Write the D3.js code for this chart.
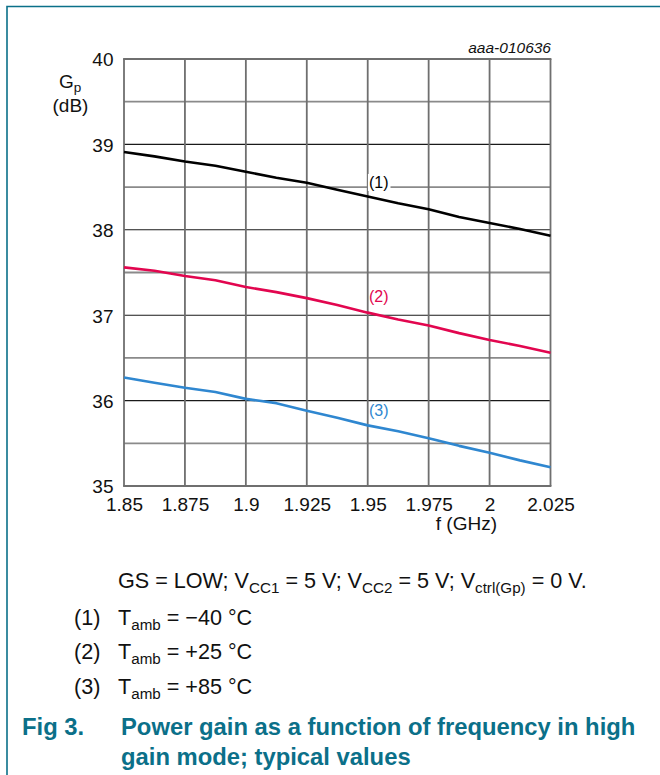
<!DOCTYPE html>
<html><head><meta charset="utf-8">
<script src="https://cdn.jsdelivr.net/npm/d3@7"></script>
<style>
html,body{margin:0;padding:0;background:#fff;}
svg text{font-family:"Liberation Sans",Arial,Helvetica,sans-serif;}
</style></head>
<body><svg id="c" width="660" height="775"></svg>
<script>
const freq = [1.85,1.8625,1.875,1.8875,1.9,1.9125,1.925,1.9375,1.95,1.9625,1.975,1.9875,2.0,2.0125,2.025];
const gainM40 = [38.91,38.86,38.80,38.75,38.68,38.61,38.55,38.47,38.39,38.31,38.24,38.15,38.08,38.01,37.93];
const gainP25 = [37.56,37.52,37.46,37.41,37.33,37.27,37.20,37.12,37.03,36.95,36.88,36.79,36.71,36.64,36.56];
const gainP85 = [36.27,36.21,36.15,36.10,36.02,35.97,35.88,35.80,35.71,35.64,35.56,35.47,35.39,35.30,35.22];
const xTicks = [1.85,1.875,1.9,1.925,1.95,1.975,2.0,2.025];
const xTickLabels = ["1.85","1.875","1.9","1.925","1.95","1.975","2","2.025"];
const yTicks = [35,36,37,38,39,40];
const yMinor = [35.5,36.5,37.5,38.5,39.5];
const seriesNames = ["(1)","(2)","(3)"];
const seriesColors = ["#000000","#e2064f","#2f87d0"];
const labelFreq = [1.9505,1.9505,1.9505];
const labelGain = [38.49,37.15,35.825];

const svg = d3.select("#c");
const teal = "#0b7089";
const x = d3.scaleLinear().domain([1.85,2.025]).range([124,550.5]);
const y = d3.scaleLinear().domain([35,40]).range([486,59]);
const axFs = 19;

svg.append("path").attr("d","M7,775 L7,6.5 L660,6.5").attr("fill","none").attr("stroke",teal).attr("stroke-width",1.6);

const g = svg.append("g");
g.selectAll(".hm").data(yMinor).join("line")
  .attr("x1",x(1.85)).attr("x2",x(2.025)).attr("y1",d=>y(d)).attr("y2",d=>y(d))
  .attr("stroke","#8a8a8a").attr("stroke-width",1.8);
g.selectAll(".hM").data(yTicks.filter(d=>d>35&&d<40)).join("line")
  .attr("x1",x(1.85)).attr("x2",x(2.025)).attr("y1",d=>y(d)).attr("y2",d=>y(d))
  .attr("stroke","#1a1a1a").attr("stroke-width",1.1);
g.selectAll(".v").data(xTicks).join("line")
  .attr("x1",d=>x(d)).attr("x2",d=>x(d)).attr("y1",y(35)).attr("y2",y(40))
  .attr("stroke","#6f6f6f").attr("stroke-width",1.8);
g.selectAll(".tb").data([35,40]).join("line")
  .attr("x1",x(1.85)-0.9).attr("x2",x(2.025)+0.9).attr("y1",d=>y(d)).attr("y2",d=>y(d))
  .attr("stroke","#6f6f6f").attr("stroke-width",1.8);

const yAxis = svg.append("g").attr("transform",`translate(${x(1.85)-10.5},0)`)
  .call(d3.axisLeft(y).tickValues(yTicks).tickSize(0).tickPadding(0).tickFormat(d3.format("d")));
yAxis.select(".domain").remove();
yAxis.selectAll("text").attr("font-size",axFs).attr("fill","#111").attr("font-family","Liberation Sans, Arial, sans-serif").attr("dy","0.36em");

const xAxis = svg.append("g").attr("transform",`translate(0,${y(35)})`)
  .call(d3.axisBottom(x).tickValues(xTicks).tickSize(0).tickPadding(0).tickFormat((d,i)=>xTickLabels[i]));
xAxis.select(".domain").remove();
xAxis.selectAll("text").attr("font-size",axFs).attr("fill","#111").attr("font-family","Liberation Sans, Arial, sans-serif").attr("dy",null).attr("y",25);

const gp = svg.append("text").attr("x",59).attr("y",88).attr("font-size",axFs).attr("fill","#111");
gp.append("tspan").text("G");
gp.append("tspan").text("p").attr("font-size",13.5).attr("dy",4);
svg.append("text").attr("x",70.5).attr("y",111.5).attr("text-anchor","middle").attr("font-size",axFs).attr("fill","#111").text("(dB)");
svg.append("text").attr("x",497).attr("y",530).attr("text-anchor","end").attr("font-size",axFs).attr("fill","#111").text("f (GHz)");
svg.append("text").attr("x",551).attr("y",52.5).attr("text-anchor","end").attr("font-size",15.5).attr("font-style","italic").attr("fill","#111").text("aaa-010636");

const line = d3.line().x((d,i)=>x(freq[i])).y(d=>y(d));
[gainM40,gainP25,gainP85].forEach((s,k)=>{
  svg.append("path").datum(s).attr("d",line).attr("fill","none")
    .attr("stroke",seriesColors[k]).attr("stroke-width",2.6).attr("stroke-linejoin","round");
});

seriesNames.forEach((n,k)=>{
  const bg = svg.append("rect").attr("fill","#fff");
  const t = svg.append("text").attr("x",x(labelFreq[k])).attr("y",y(labelGain[k])).attr("font-size",16)
    .attr("fill",seriesColors[k]).text(n);
  if(k===0){
    const bb = t.node().getBBox();
    bg.attr("x",bb.x-1).attr("y",bb.y).attr("width",bb.width+3).attr("height",bb.height);
  } else bg.remove();
});

const fs = 21.6, sub = 15.2;
function rich(xp, yp, parts){
  const t = svg.append("text").attr("x",xp).attr("y",yp).attr("font-size",fs).attr("fill","#111");
  let down = false;
  parts.forEach(p=>{
    const isSub = p[0]==="_";
    const txt = isSub ? p.slice(1) : p;
    const ts = t.append("tspan").text(txt);
    if(isSub && !down){ ts.attr("font-size",sub).attr("dy",5); down = true; }
    else if(isSub){ ts.attr("font-size",sub); }
    else if(down){ ts.attr("dy",-5); down=false; }
  });
  return t;
}
rich(118,588,["GS = LOW; V","_CC1"," = 5 V; V","_CC2"," = 5 V; V","_ctrl(Gp)"," = 0 V."]);
const legendIdx = ["(1)","(2)","(3)"];
const legendTxt = [" = \u221240 \u00B0C"," = +25 \u00B0C"," = +85 \u00B0C"];
const legendY = [624.5,658.5,693.5];
legendIdx.forEach((n,i)=>{
  svg.append("text").attr("x",74).attr("y",legendY[i]).attr("font-size",fs).attr("fill","#111").text(n);
  rich(118,legendY[i],["T","_amb",legendTxt[i]]);
});

const tf = 23.8;
svg.append("text").attr("x",22).attr("y",735).attr("font-size",tf).attr("font-weight","bold").attr("fill",teal).text("Fig 3.");
svg.append("text").attr("x",121).attr("y",735).attr("font-size",tf).attr("font-weight","bold").attr("fill",teal).text("Power gain as a function of frequency in high");
svg.append("text").attr("x",121).attr("y",765).attr("font-size",tf).attr("font-weight","bold").attr("fill",teal).text("gain mode; typical values");
</script></body></html>
